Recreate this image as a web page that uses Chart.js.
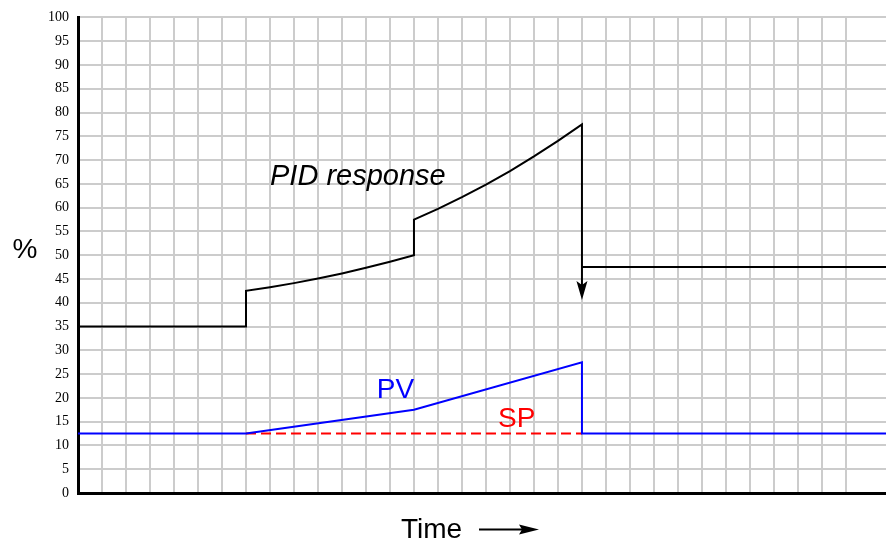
<!DOCTYPE html>
<html>
<head>
<meta charset="utf-8">
<script src="https://cdn.jsdelivr.net/npm/chart.js@4.4.0/dist/chart.umd.min.js"></script>
<style>
html,body{margin:0;padding:0;background:#fff;}
#wrap{width:886px;height:544px;position:relative;}
</style>
</head>
<body>
<div id="wrap"><canvas id="c" width="886" height="544"></canvas></div>
<script>
// ---- data (time in grid cells, value in %) ----
const outTime  = [0, 7, 7, 8, 9, 10, 11, 12, 13, 14, 14, 15, 16, 17, 18, 19, 20, 21, 21];
const outValue = [35, 35, 42.5, 43.27, 44.13, 45.1, 46.17, 47.35, 48.62, 50, 57.5, 59.74, 62.19, 64.85, 67.7, 70.77, 74.03, 77.5, 43.5];
const outAfterTime  = [21, 34];
const outAfterValue = [47.5, 47.5];
const arrowTime = 21, arrowTipValue = 40.6;
const pvTime  = [0, 7, 14, 21, 21, 34];
const pvValue = [12.5, 12.5, 17.5, 27.5, 12.5, 12.5];
const spTime  = [7, 21];
const spValue = [12.5, 12.5];
const yTicks = [0,5,10,15,20,25,30,35,40,45,50,55,60,65,70,75,80,85,90,95,100];
const xMax = 33.67;

const toPts = (xs, ys) => xs.map((x, i) => ({x, y: ys[i]}));

const labels = [
  {text: 'PID response', x: 8.0, y: 64.85, color: '#000', font: 'italic 29px "Liberation Sans", Arial, sans-serif'},
  {text: 'PV', x: 12.45, y: 20.05, color: '#0000ff', font: '28px "Liberation Sans", Arial, sans-serif'},
  {text: 'SP', x: 17.5, y: 13.8, color: '#ff0000', font: '28px "Liberation Sans", Arial, sans-serif'}
];

const decor = {
  id: 'decor',
  afterDatasetsDraw(chart) {
    const {ctx, scales: {x, y}} = chart;
    ctx.save();
    // arrowhead on the output drop
    const ax = x.getPixelForValue(arrowTime);
    const tip = y.getPixelForValue(arrowTipValue);
    ctx.fillStyle = '#000';
    ctx.beginPath();
    ctx.moveTo(ax, tip);
    ctx.lineTo(ax - 5.5, tip - 19);
    ctx.lineTo(ax, tip - 15);
    ctx.lineTo(ax + 5.5, tip - 19);
    ctx.closePath();
    ctx.fill();
    // labels
    ctx.textBaseline = 'alphabetic';
    ctx.textAlign = 'left';
    for (const l of labels) {
      ctx.font = l.font;
      ctx.fillStyle = l.color;
      ctx.fillText(l.text, x.getPixelForValue(l.x), y.getPixelForValue(l.y));
    }
    ctx.restore();
  },
  afterDraw(chart) {
    const ctx = chart.ctx;
    ctx.save();
    ctx.fillStyle = '#000';
    ctx.font = '28px "Liberation Sans", Arial, sans-serif';
    ctx.textAlign = 'center';
    ctx.textBaseline = 'middle';
    ctx.fillText('%', 25, 250);
    ctx.textAlign = 'left';
    ctx.textBaseline = 'alphabetic';
    ctx.fillText('Time', 401, 537.5);
    ctx.strokeStyle = '#000';
    ctx.lineWidth = 2;
    ctx.beginPath();
    ctx.moveTo(479, 529.5);
    ctx.lineTo(524, 529.5);
    ctx.stroke();
    ctx.beginPath();
    ctx.moveTo(539, 529.5);
    ctx.lineTo(519, 524.5);
    ctx.lineTo(522, 529.5);
    ctx.lineTo(519, 534.5);
    ctx.closePath();
    ctx.fill();
    ctx.restore();
  }
};

new Chart(document.getElementById('c'), {
  type: 'scatter',
  data: {
    datasets: [
      {data: toPts(spTime, spValue), showLine: true, borderColor: '#ff0000', borderWidth: 2, borderDash: [10, 5], pointRadius: 0, tension: 0, order: 3},
      {data: toPts(pvTime, pvValue), showLine: true, borderColor: '#0000ff', borderWidth: 2, pointRadius: 0, tension: 0, order: 2},
      {data: toPts(outTime, outValue), showLine: true, borderColor: '#000', borderWidth: 2, pointRadius: 0, tension: 0, order: 1},
      {data: toPts(outAfterTime, outAfterValue), showLine: true, borderColor: '#000', borderWidth: 2, pointRadius: 0, tension: 0, order: 1}
    ]
  },
  options: {
    responsive: false,
    animation: false,
    layout: {padding: {top: 13, right: 0, left: 0, bottom: 0}},
    plugins: {legend: {display: false}, tooltip: {enabled: false}},
    scales: {
      x: {
        type: 'linear', min: 0, max: xMax,
        afterBuildTicks(s) { s.ticks = s.ticks.filter(t => Number.isInteger(t.value)); },
        afterFit(s) { s.height = 51; },
        ticks: {display: false, stepSize: 1},
        grid: {color: '#cccccc', lineWidth: 2, drawTicks: false},
        border: {display: true, color: '#000', width: 3}
      },
      y: {
        type: 'linear', min: 0, max: 100,
        afterBuildTicks(s) { s.ticks = yTicks.map(v => ({value: v})); },
        afterFit(s) { s.width = 78; },
        ticks: {color: '#000', padding: 9, font: {family: '"Liberation Serif", "Times New Roman", serif', size: 14}},
        grid: {color: '#cccccc', lineWidth: 2, drawTicks: false},
        border: {display: true, color: '#000', width: 3}
      }
    }
  },
  plugins: [decor]
});
</script>
</body>
</html>
